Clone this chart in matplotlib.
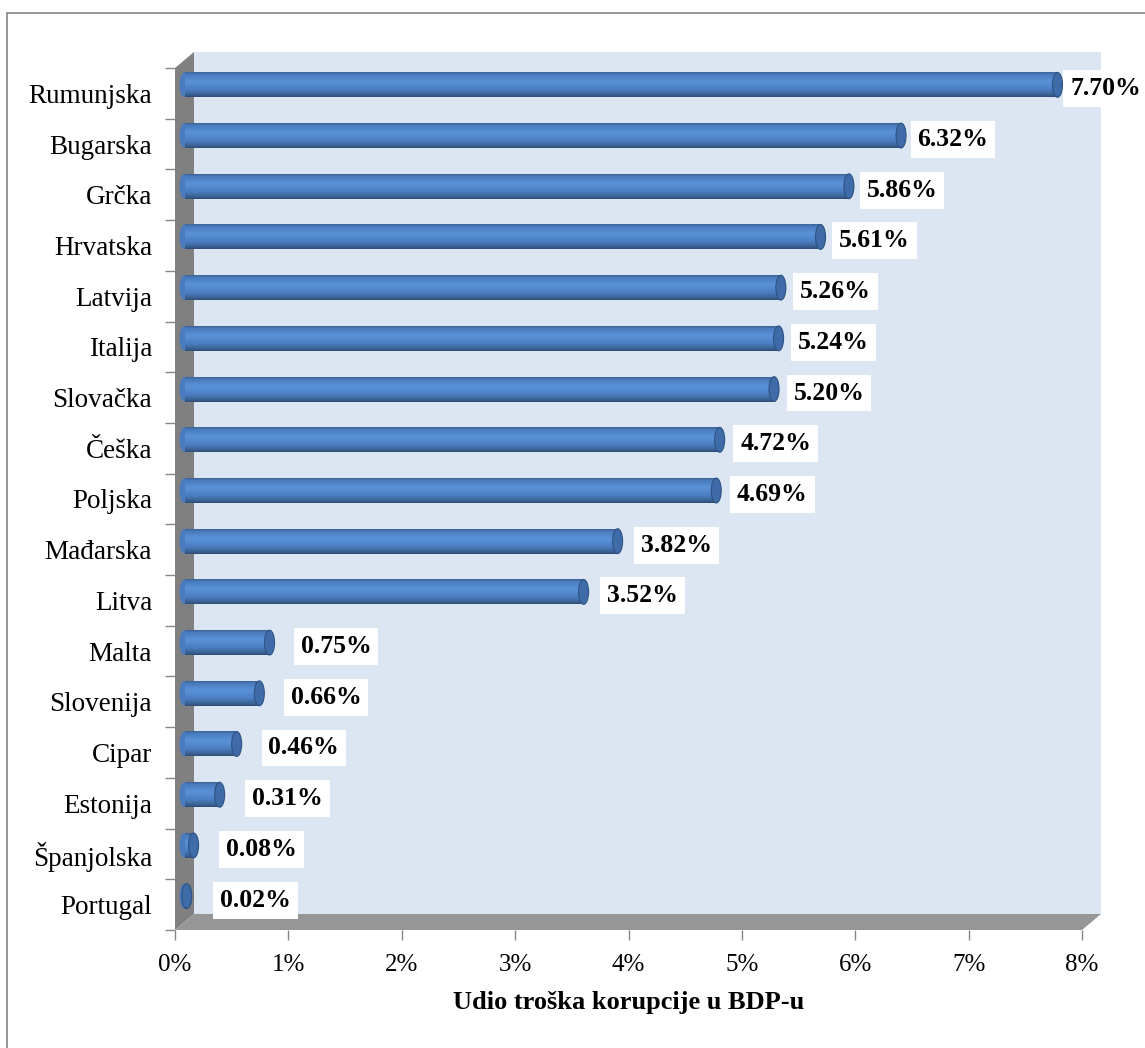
import numpy as np
import matplotlib
matplotlib.use("Agg")
import matplotlib.pyplot as plt
from matplotlib.patches import Polygon, Ellipse, Rectangle
from matplotlib.colors import LinearSegmentedColormap
from matplotlib.ticker import FuncFormatter

plt.rcParams['font.family'] = ['Liberation Serif', 'DejaVu Serif']

# data, top to bottom as in the chart
countries = ['Rumunjska', 'Bugarska', 'Grčka', 'Hrvatska', 'Latvija', 'Italija',
             'Slovačka', 'Češka', 'Poljska', 'Mađarska', 'Litva', 'Malta',
             'Slovenija', 'Cipar', 'Estonija', 'Španjolska', 'Portugal']
values = [7.70, 6.32, 5.86, 5.61, 5.26, 5.24, 5.20, 4.72, 4.69, 3.82, 3.52,
          0.75, 0.66, 0.46, 0.31, 0.08, 0.02]
xticks = [0, 1, 2, 3, 4, 5, 6, 7, 8]
xlabel = 'Udio troška korupcije u BDP-u'

W, H = 1145, 1048
fig = plt.figure(figsize=(W / 100, H / 100), dpi=100)
fig.patch.set_facecolor('white')

# outer chart frame (runs off the right and bottom edge)
fig.patches.append(Rectangle((7 / W, -0.05), 1.1, 1 - 13 / H + 0.05,
                             transform=fig.transFigure, fill=False,
                             edgecolor='#868686', linewidth=1.2))

ax = fig.add_axes([175 / W, (H - 930) / H, 907 / W, 862 / H])
n = len(countries)
ypos = np.arange(n)[::-1]          # Rumunjska on top
ax.set_xlim(0, 8)
ax.set_ylim(-0.5, n - 0.5)

px_x = 907 / 8                     # pixels per data unit
px_y = 862 / n
# 3d depth of the walls and of the cylinders
wdx, wdy = 19 / px_x, 16 / px_y
bdx, bdy = 9.5 / px_x, 8.5 / px_y
cap_w = 10 / px_x
bar_h = 0.49

y0, y1 = -0.5, n - 0.5
back = Polygon([(wdx, y0 + wdy), (8 + wdx, y0 + wdy), (8 + wdx, y1 + wdy), (wdx, y1 + wdy)],
               closed=True, facecolor='#DCE6F2', edgecolor='none', zorder=0, clip_on=False)
left = Polygon([(0, y0), (wdx, y0 + wdy), (wdx, y1 + wdy), (0, y1)],
               closed=True, facecolor='#808080', edgecolor='none', zorder=0.5, clip_on=False)
floor = Polygon([(0, y0), (8, y0), (8 + wdx, y0 + wdy), (wdx, y0 + wdy)],
                closed=True, facecolor='#969696', edgecolor='none', zorder=0.6, clip_on=False)
for p in (back, left, floor):
    ax.add_patch(p)

cyl = LinearSegmentedColormap.from_list('cyl', [
    (0.0, '#3E6498'), (0.1, '#4B7DC0'), (0.38, '#5A92D9'),
    (0.68, '#4C80C4'), (0.9, '#3C6497'), (1.0, '#2E4C75')])
grad = np.linspace(0, 1, 64).reshape(-1, 1)

for y, v in zip(ypos, values):
    yc = y + bdy
    x_start = bdx
    x_end = v + bdx
    ax.add_patch(Ellipse((x_start, yc), cap_w, bar_h, facecolor='#4A7BBE',
                         edgecolor='none', zorder=1.5))
    ax.imshow(grad, cmap=cyl, aspect='auto', origin='upper', interpolation='bilinear',
              extent=(x_start, x_end, yc - bar_h / 2, yc + bar_h / 2), zorder=2)
    ax.add_patch(Ellipse((x_end, yc), cap_w, bar_h, facecolor='#3F6CA8',
                         edgecolor='#2E5282', linewidth=0.8, zorder=3))
    # value label; Excel's perspective pulls the labels slightly left as values grow
    ax.annotate(f'{v:.2f}%', xy=(v * 0.977, y), xytext=(30.6, 3.3),
                textcoords='offset points', ha='left', va='center',
                fontsize=18.5, fontweight='bold', color='black', zorder=5,
                annotation_clip=False,
                bbox=dict(boxstyle='square,pad=0.27', facecolor='white', edgecolor='none'))

ax.set_xlim(0, 8)
ax.set_ylim(-0.5, n - 0.5)

for s in ax.spines.values():
    s.set_visible(False)

ax.set_xticks(xticks)
ax.xaxis.set_major_formatter(FuncFormatter(lambda x, pos: f'{int(x)}%'))
ax.tick_params(axis='x', length=7, width=1, color='#868686', pad=10, labelsize=18)

ax.set_yticks(np.arange(-0.5, n, 1.0))
ax.set_yticklabels([])
ax.set_yticks(ypos, minor=True)
ax.set_yticklabels(countries, minor=True)
ax.tick_params(axis='y', which='major', length=7, width=1, color='#868686')
ax.tick_params(axis='y', which='minor', length=0, pad=16.5, labelsize=19.5)

ax.set_xlabel(xlabel, fontsize=19, fontweight='bold', labelpad=11)

fig.savefig('out.png', dpi=100, facecolor='white')
